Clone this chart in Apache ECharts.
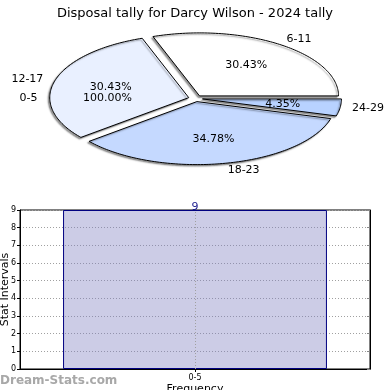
<!DOCTYPE html>
<html>
<head>
<meta charset="utf-8">
<script src="https://cdn.jsdelivr.net/npm/echarts@6/dist/echarts.min.js"></script>
<style>
html,body{margin:0;padding:0;background:#fff;}
#c{width:390px;height:390px;}
</style>
</head>
<body>
<div id="c"></div>
<script>
const titleText = 'Disposal tally for Darcy Wilson - 2024 tally';
const pieCategories = ['0-5', '6-11', '12-17', '18-23', '24-29'];
const pieValues = [0, 7, 7, 8, 1];
const piePercentLabels = ['100.00%', '30.43%', '30.43%', '34.78%', '4.35%'];
const pieColors = ['#dfe9ff', '#ffffff', '#e9f0ff', '#c5d9ff', '#b8d2ff'];
const barCategories = ['0-5'];
const barValues = [9];
const yMin = 0, yMax = 9, yStep = 1;

const FONT = '"DejaVu Sans", sans-serif';
const total = pieValues.reduce((s, v) => s + v, 0);

function renderPie(params, api) {
  const i = params.dataIndex;
  let before = 0;
  for (let k = 0; k < i; k++) before += pieValues[k];
  const v = api.value(0);
  const cx = api.getWidth() / 2 + 0.5, cy = 98.5, a = 139, b = 63, e = 7;
  const a0 = before / total * 2 * Math.PI;
  const a1 = (before + v) / total * 2 * Math.PI;
  const mid = v === 0 ? Math.PI : (a0 + a1) / 2;
  const c = Math.cos(mid), s = Math.sin(mid);
  const ox = cx + e * c, oy = cy - e * (b / a) * s;
  const children = [];
  if (v > 0) {
    const pts = [[ox, oy]];
    const n = Math.max(2, Math.ceil((a1 - a0) / 0.02));
    for (let k = 0; k <= n; k++) {
      const t = a0 + (a1 - a0) * k / n;
      pts.push([ox + a * Math.cos(t), oy - b * Math.sin(t)]);
    }
    children.push({
      type: 'polygon', shape: { points: pts },
      style: { fill: pieColors[i], stroke: '#000', lineWidth: 1,
        shadowBlur: 1.5, shadowColor: 'rgba(0,0,0,0.4)', shadowOffsetX: -1.5, shadowOffsetY: 1.5 }
    });
  }
  children.push({
    type: 'text', z2: 10,
    style: { text: piePercentLabels[i], x: ox + 81 * c, y: oy - 38 * s,
      align: 'center', verticalAlign: 'middle', font: '11px ' + FONT, fill: '#000' }
  });
  children.push({
    type: 'text', z2: 10,
    style: { text: pieCategories[i], x: ox + 151 * c, y: oy - 70 * s,
      align: c >= 0 ? 'left' : 'right', verticalAlign: 'middle', font: '11px ' + FONT, fill: '#000' }
  });
  return { type: 'group', children };
}

const chart = echarts.init(document.getElementById('c'), null, { renderer: 'canvas' });
chart.setOption({
  animation: false,
  backgroundColor: '#fff',
  title: {
    text: titleText, left: 'center', top: 2,
    textStyle: { fontFamily: FONT, fontSize: 13, fontWeight: 'normal', color: '#000' }
  },
  graphic: [{
    type: 'text', left: 0, top: 375,
    style: { text: 'Dream-Stats.com', font: 'bold 12px ' + FONT, fill: '#a8a8a8' }
  }],
  grid: { left: 20, right: 20, top: 210, bottom: 21, show: true, borderColor: '#000', borderWidth: 1,
    containLabel: false, outerBoundsMode: 'none' },
  xAxis: {
    type: 'category', data: barCategories,
    axisLine: { lineStyle: { color: '#000' } },
    axisTick: { show: true, alignWithLabel: true, length: 3, lineStyle: { color: '#000' } },
    axisLabel: { fontSize: 8, color: '#000', margin: 5, fontFamily: FONT },
    splitLine: { show: false },
    name: 'Frequency', nameLocation: 'middle', nameGap: 15, nameMoveOverlap: false,
    nameTextStyle: { fontSize: 11, color: '#000', fontFamily: FONT }
  },
  yAxis: [{
    type: 'value', min: yMin, max: yMax, interval: yStep,
    axisLine: { show: true, lineStyle: { color: '#000' } },
    axisTick: { show: true, length: 3, lineStyle: { color: '#000' } },
    axisLabel: { fontSize: 8, color: '#000', margin: 4, fontFamily: FONT },
    splitLine: { show: true, lineStyle: { type: [1, 2], color: '#a0a0a0' } },
    name: 'Stat Intervals', nameLocation: 'middle', nameGap: 9, nameMoveOverlap: false,
    nameTextStyle: { fontSize: 11, color: '#000', fontFamily: FONT }
  }, {
    type: 'value', position: 'right', min: yMin, max: yMax, interval: yStep,
    axisLine: { show: true, lineStyle: { color: '#000' } },
    axisTick: { show: true, inside: true, length: 3, lineStyle: { color: '#888' } },
    axisLabel: { show: false },
    splitLine: { show: false }
  }],
  series: [{
    type: 'custom', coordinateSystem: 'none', renderItem: renderPie,
    data: pieValues.map(v => [v]), silent: true
  }, {
    type: 'bar', data: barValues, barWidth: '75.4%',
    itemStyle: { color: 'rgba(128,128,192,0.4)', borderColor: '#000080', borderWidth: 1 },
    label: { show: true, position: 'top', distance: 0, offset: [0, 3], color: '#1a1a8c', fontSize: 11, fontFamily: FONT },
    markLine: {
      symbol: 'none', silent: true, label: { show: false },
      lineStyle: { type: [1, 2], color: '#a0a0a0', width: 1 },
      data: [{ xAxis: '0-5' }]
    }
  }]
});
</script>
</body>
</html>
